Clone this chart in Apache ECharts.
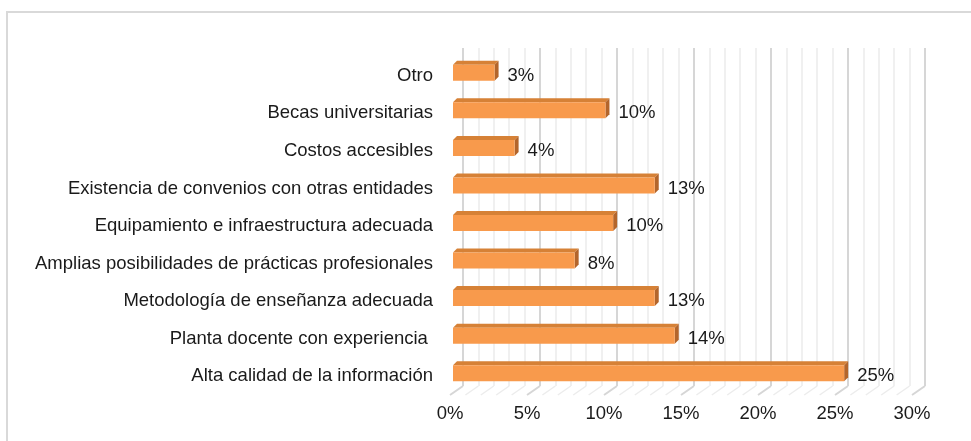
<!DOCTYPE html>
<html>
<head>
<meta charset="utf-8">
<script src="https://cdn.jsdelivr.net/npm/echarts@6/dist/echarts.min.js"></script>
<style>
  html, body { margin: 0; padding: 0; background: #fff; }
  #chart { width: 971px; height: 441px; }
</style>
</head>
<body>
<div id="chart"></div>
<script>
// categories top to bottom
const categories = [
  'Otro',
  'Becas universitarias',
  'Costos accesibles',
  'Existencia de convenios con otras entidades',
  'Equipamiento e infraestructura adecuada',
  'Amplias posibilidades de prácticas profesionales',
  'Metodología de enseñanza adecuada',
  'Planta docente con experiencia ',
  'Alta calidad de la información'
];
const values = [2.7, 9.9, 4.0, 13.1, 10.4, 7.9, 13.1, 14.4, 25.4];
const axisTicks = [0, 5, 10, 15, 20, 25, 30];
const floorTicks = [];
for (let i = 0; i <= 30; i++) floorTicks.push(i);

const FRONT = '#F89A4C';
const TOP = '#D68136';
const SIDE = '#B3652B';
const DX = 13, DY = 9;   // depth of the 3d box
const FONT = '"Liberation Sans", Arial, sans-serif';

const chart = echarts.init(document.getElementById('chart'));

const renderBar = (params, api) => {
  const idx = api.value(1);
  const start = api.coord([0, idx]);
  const end = api.coord([api.value(0), idx]);
  const x0 = start[0] + 3;
  const x1 = end[0] + 3;
  const yc = start[1] - 3;
  const h = 16, d = 4;
  const yt = yc - h / 2, yb = yc + h / 2;
  return {
    type: 'group',
    children: [
      {
        type: 'polygon',
        shape: { points: [[x0, yt], [x0 + d, yt - d], [x1 + d, yt - d], [x1, yt]] },
        style: { fill: TOP }
      },
      {
        type: 'polygon',
        shape: { points: [[x1, yt], [x1 + d, yt - d], [x1 + d, yb - d], [x1, yb]] },
        style: { fill: SIDE }
      },
      {
        type: 'rect',
        shape: { x: x0, y: yt, width: x1 - x0, height: h },
        style: { fill: FRONT }
      },
      {
        type: 'text',
        style: {
          x: x1 + d + 9,
          y: start[1],
          text: Math.round(api.value(0)) + '%',
          fill: '#1a1a1a',
          font: '18.5px ' + FONT,
          verticalAlign: 'middle',
          align: 'left'
        }
      }
    ]
  };
};

const renderFloor = (params, api) => {
  const v = api.value(0);
  const p = api.coord([v, 0]);
  const bottom = params.coordSys.y + params.coordSys.height;
  const major = v % 5 === 0;
  return {
    type: 'line',
    shape: { x1: p[0], y1: bottom, x2: p[0] + DX, y2: bottom - DY },
    style: { stroke: major ? '#d6d6d6' : '#ececec', lineWidth: major ? 2 : 1.5 }
  };
};

const option = {
  backgroundColor: '#fff',
  animation: false,
  textStyle: { fontFamily: FONT },
  graphic: [{
    type: 'rect',
    shape: { x: 7, y: 12, width: 1000, height: 500 },
    style: { fill: 'none', stroke: '#d9d9d9', lineWidth: 2 },
    silent: true
  }],
  grid: [
    { left: 450, top: 57, width: 462, height: 338 },
    { left: 450 + DX, top: 57 - DY, width: 462, height: 338 }
  ],
  xAxis: [
    {
      gridIndex: 0,
      type: 'value',
      min: 0,
      max: 30,
      interval: 5,
      axisLine: { show: false },
      axisTick: { show: false },
      splitLine: { show: false },
      axisLabel: {
        formatter: '{value}%',
        color: '#1a1a1a',
        fontSize: 18.5,
        margin: 9,
        customValues: axisTicks
      }
    },
    {
      gridIndex: 1,
      type: 'value',
      min: 0,
      max: 30,
      interval: 5,
      axisLine: { show: false },
      axisTick: { show: false },
      axisLabel: { show: false },
      splitLine: { show: true, lineStyle: { color: '#d6d6d6', width: 2 } },
      minorTick: { show: false, splitNumber: 5 },
      minorSplitLine: { show: true, lineStyle: { color: '#ececec', width: 1.5 } }
    }
  ],
  yAxis: [
    {
      gridIndex: 0,
      type: 'category',
      inverse: true,
      data: categories,
      axisLine: { show: false },
      axisTick: { show: false },
      splitLine: { show: false },
      axisLabel: { color: '#1a1a1a', fontSize: 18.5, margin: 17 }
    },
    {
      gridIndex: 1,
      type: 'value',
      show: false,
      splitLine: { show: false }
    }
  ],
  series: [
    {
      type: 'custom',
      xAxisIndex: 0,
      yAxisIndex: 0,
      renderItem: renderFloor,
      data: floorTicks.map(v => [v]),
      silent: true,
      z: 1
    },
    {
      type: 'custom',
      xAxisIndex: 0,
      yAxisIndex: 0,
      renderItem: renderBar,
      data: values.map((v, i) => [v, i]),
      z: 5
    }
  ]
};

chart.setOption(option);
</script>
</body>
</html>
